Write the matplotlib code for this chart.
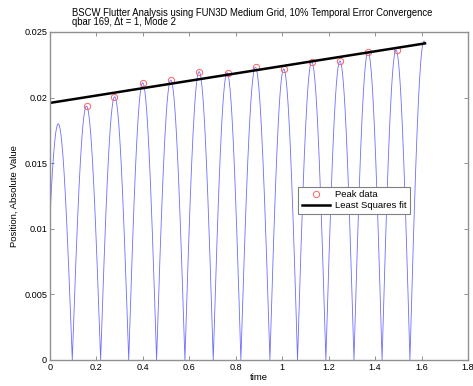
import matplotlib
matplotlib.use("Agg")
import matplotlib.pyplot as plt
import numpy as np

plt.rcParams['font.family'] = ['Liberation Sans', 'DejaVu Sans']

# zero crossings of the |position| signal
zero_times = [0.096, 0.218, 0.339, 0.459, 0.581, 0.703, 0.822,
              0.947, 1.066, 1.188, 1.309, 1.430, 1.550]
# height of every half-cycle arch, first (partial) to last (partial)
arch_peaks = [0.0180, 0.01936, 0.02007, 0.02114, 0.02134, 0.02198, 0.0219,
              0.02231, 0.02218, 0.02274, 0.0228, 0.0235, 0.02363, 0.0243]
t_start, t_end = 0.0, 1.615

# detected peaks
peak_t = [0.159, 0.277, 0.400, 0.522, 0.643, 0.765,
          0.887, 1.008, 1.127, 1.249, 1.371, 1.493]
peak_v = [0.01936, 0.02007, 0.02114, 0.02134, 0.02198, 0.0219,
          0.02231, 0.02218, 0.02274, 0.0228, 0.0235, 0.02363]

# rebuild the signal arch by arch between zero crossings
half = np.mean(np.diff(zero_times))
edges = [zero_times[0] - half] + zero_times + [zero_times[-1] + half]
t_all, y_all = [], []
for k, amp in enumerate(arch_peaks):
    z0, z1 = edges[k], edges[k + 1]
    tt = np.linspace(max(z0, t_start), min(z1, t_end), 60)
    t_all.append(tt)
    y_all.append(np.abs(amp * np.sin(np.pi * (tt - z0) / (z1 - z0))))
t_all = np.concatenate(t_all)
y_all = np.concatenate(y_all)

coef = np.polyfit(peak_t, peak_v, 1)
fit_t = np.array([t_start, t_end])
fit_v = np.polyval(coef, fit_t)

fig = plt.figure(figsize=(4.73, 3.86), dpi=100)
ax = fig.add_axes([0.1057, 0.0674, 0.8837, 0.8497])

ax.plot(t_all, y_all, color='#3030ff', lw=0.6, alpha=0.7)
ax.plot(peak_t, peak_v, 'o', mfc='none', mec='#ff6060', ms=4.5, mew=0.7,
        label='Peak data')
ax.plot(fit_t, fit_v, color='black', lw=1.8, label='Least Squares fit')

ax.set_xlim(0, 1.8)
ax.set_ylim(0, 0.025)
ax.set_xticks(np.arange(0, 1.81, 0.2))
ax.set_xticklabels(['0', '0.2', '0.4', '0.6', '0.8', '1', '1.2', '1.4', '1.6', '1.8'])
ax.set_yticks([0, 0.005, 0.01, 0.015, 0.02, 0.025])
ax.set_yticklabels(['0', '0.005', '0.01', '0.015', '0.02', '0.025'])
ax.tick_params(direction='in', length=3, width=0.6, color='#808080',
               labelsize=6.6, top=True, right=True, pad=2)
for s in ax.spines.values():
    s.set_color('#909090')
    s.set_linewidth(1.0)

ax.set_xlabel('time', fontsize=6.8, labelpad=1)
ax.set_ylabel('Position, Absolute Value', fontsize=6.8, labelpad=4)

fig.text(71.7 / 473, 1 - 17.5 / 386,
         'BSCW Flutter Analysis using FUN3D Medium Grid, 10% Temporal Error Convergence\n'
         'qbar 169, \u0394t = 1, Mode 2',
         ha='left', va='center', fontsize=6.85, linespacing=0.95)

leg = ax.legend(loc='upper left', bbox_to_anchor=(0.594, 0.528), borderaxespad=0,
                fontsize=6.8, fancybox=False, framealpha=1, handlelength=3.0,
                handletextpad=0.5, borderpad=0.35, labelspacing=0.25)
leg.get_frame().set_edgecolor('#808080')
leg.get_frame().set_linewidth(0.8)

fig.savefig('out.png', dpi=100)
